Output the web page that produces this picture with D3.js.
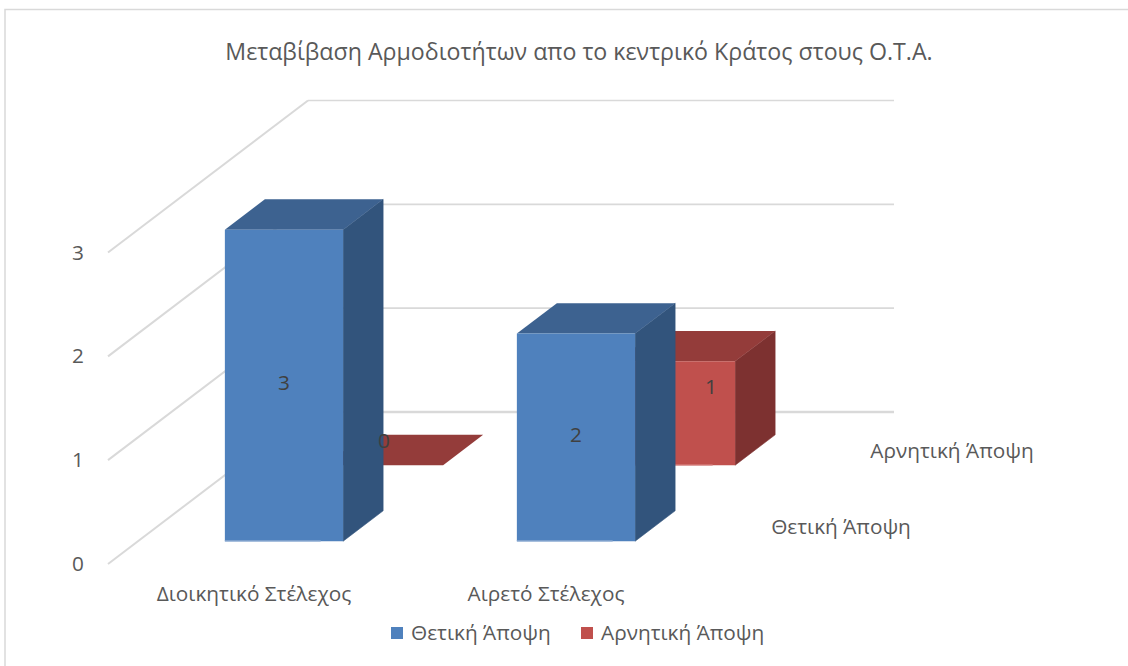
<!DOCTYPE html>
<html>
<head>
<meta charset="utf-8">
<script src="https://cdn.jsdelivr.net/npm/d3@7"></script>
<style>
  html, body { margin: 0; padding: 0; background: #fff; }
  text { font-family: "Open Sans", sans-serif; fill: #595959; }
  .data-labels text { fill: #404040; }
</style>
</head>
<body>
<svg id="chart" width="1128" height="666"></svg>
<script>
////////////
// DATA
////////////
const title = "Μεταβίβαση Αρμοδιοτήτων απο το κεντρικό Κράτος στους Ο.Τ.Α.";
const categories = ["Διοικητικό Στέλεχος", "Αιρετό Στέλεχος"];
const seriesNames = ["Θετική Άποψη", "Αρνητική Άποψη"];
const positive = [3, 2];
const negative = [0, 1];
const valueTicks = [0, 1, 2, 3];

////////////
// SETTINGS
////////////
const svg = d3.select("#chart");
const depth = { dx: 200, dy: -152 };
const x = d3.scaleBand().domain(categories).range([108, 692]);
const y = d3.scaleLinear().domain([0, 3]).range([564, 252.5]);
// depth axis, series sit at 1/4 and 3/4 of the floor
const z = d3.scalePoint().domain(seriesNames).range([0.25, 0.75]);
const barWidth = x.bandwidth() * 0.405;
const barDepth = 0.2;
const labelSize = 20.8;

const colors = {
    [seriesNames[0]]: { front: "#4f81bd", top: "#3d6290", side: "#32547c", edge: "#7c9fcb" },
    [seriesNames[1]]: { front: "#c0504d", top: "#943c3a", side: "#7d3130", edge: "#cf6f6c" }
};

function project(px, value, zz) {
    return [px + zz * depth.dx, y(value) + zz * depth.dy];
}
function poly(points) {
    return points.map(p => p.join(",")).join(" ");
}

////////////
// DRAWING
////////////
// chart frame
svg.append("rect")
    .attr("x", 5).attr("y", 9.5)
    .attr("width", 1140).attr("height", 680)
    .attr("fill", "none")
    .attr("stroke", "#d9d9d9")
    .attr("stroke-width", 1.5);

svg.append("text")
    .attr("x", 579).attr("y", 60)
    .attr("text-anchor", "middle")
    .attr("font-size", 23.2)
    .text(title);

// gridlines on side wall and back wall
const grid = svg.append("g").attr("stroke", "#d9d9d9").attr("fill", "none");
valueTicks.forEach(v => {
    const corner = project(108, v, 1);
    grid.append("line")
        .attr("x1", project(108, v, 0)[0]).attr("y1", project(108, v, 0)[1])
        .attr("x2", corner[0]).attr("y2", corner[1])
        .attr("stroke-width", 2);
    grid.append("line")
        .attr("x1", corner[0]).attr("y1", corner[1])
        .attr("x2", 894).attr("y2", corner[1])
        .attr("stroke-width", v == 0 ? 2.5 : 1.6);
});

function drawBar(category, value, seriesName) {
    const c = colors[seriesName];
    const left = x(category) + (x.bandwidth() - barWidth) / 2;
    const right = left + barWidth;
    const z0 = z(seriesName) - barDepth / 2;
    const z1 = z(seriesName) + barDepth / 2;
    const g = svg.append("g").attr("class", "bar");

    if (value > 0) {
        g.append("polygon").attr("fill", c.side).attr("stroke", c.side).attr("stroke-width", 0.6)
            .attr("points", poly([
                project(right, 0, z0), project(right, value, z0),
                project(right, value, z1), project(right, 0, z1)
            ]));
    }
    g.append("polygon").attr("fill", c.top).attr("points", poly([
        project(left, value, z0), project(right, value, z0),
        project(right, value, z1), project(left, value, z1)
    ]));
    if (value > 0) {
        g.append("polygon").attr("fill", c.front).attr("points", poly([
            project(left, 0, z0), project(right, 0, z0),
            project(right, value, z0), project(left, value, z0)
        ]));
        // lighter strip along the foot of the front face
        const foot = project(left, 0, z0);
        const footEnd = project(left + barWidth * 0.81, 0, z0);
        g.append("line")
            .attr("x1", foot[0]).attr("y1", foot[1] - 0.5)
            .attr("x2", footEnd[0]).attr("y2", footEnd[1] - 0.5)
            .attr("stroke", c.edge).attr("stroke-width", 1.5);
    }
}

// back series first so the front series covers it
categories.forEach((cat, i) => drawBar(cat, negative[i], seriesNames[1]));
categories.forEach((cat, i) => drawBar(cat, positive[i], seriesNames[0]));

// data labels
function frontCentre(category, value, seriesName) {
    const zz = z(seriesName) - barDepth / 2;
    return project(x(category) + x.bandwidth() / 2, value / 2, zz);
}
const labels = svg.append("g")
    .attr("class", "data-labels")
    .attr("font-size", labelSize)
    .attr("text-anchor", "middle");
categories.forEach((cat, i) => {
    const a = frontCentre(cat, positive[i], seriesNames[0]);
    labels.append("text").attr("x", a[0]).attr("y", a[1] + 5).text(positive[i]);
    const b = frontCentre(cat, negative[i], seriesNames[1]);
    // the red labels are pushed back off the face
    const shift = negative[i] == 0 ? [0, -17] : [35, -19];
    labels.append("text").attr("x", b[0] + shift[0]).attr("y", b[1] + shift[1]).text(negative[i]);
});

// value axis
const yAxis = svg.append("g")
    .attr("transform", "translate(87,0)")
    .call(d3.axisLeft(y).tickValues(valueTicks).tickFormat(d3.format("d")).tickSize(0));
yAxis.select(".domain").remove();
yAxis.selectAll("text").attr("font-size", labelSize).attr("font-family", null).style("fill", "#595959");

// category axis
const xAxis = svg.append("g")
    .attr("transform", "translate(0,583)")
    .call(d3.axisBottom(x).tickSize(0));
xAxis.select(".domain").remove();
xAxis.selectAll("text").attr("font-size", labelSize).attr("font-family", null).style("fill", "#595959");

// series labels along the depth axis
const seriesLabels = svg.append("g").attr("font-size", labelSize).attr("text-anchor", "middle");
seriesNames.forEach((name, i) => {
    seriesLabels.append("text")
        .attr("x", [841, 952][i])
        .attr("y", [534, 458][i])
        .text(name);
});

// legend
const legend = svg.append("g").attr("font-size", labelSize);
seriesNames.forEach((name, i) => {
    const lx = [391, 581][i];
    legend.append("rect")
        .attr("x", lx).attr("y", 627)
        .attr("width", 12).attr("height", 12)
        .attr("fill", colors[name].front);
    legend.append("text")
        .attr("x", lx + 20).attr("y", 640)
        .text(name);
});
</script>
</body>
</html>
